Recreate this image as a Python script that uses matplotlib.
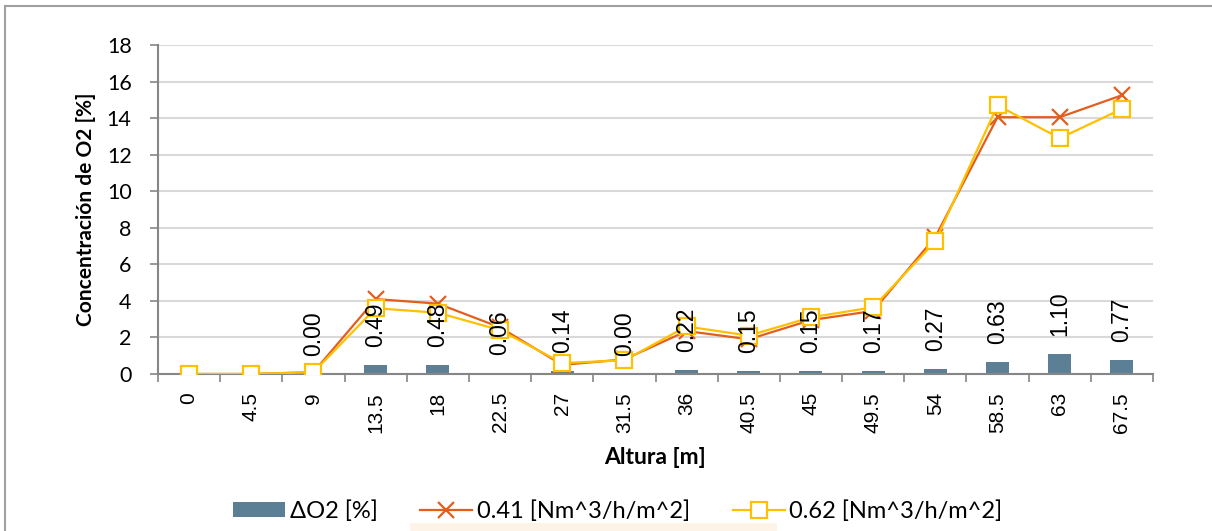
import numpy as np
import matplotlib
matplotlib.use("Agg")
import matplotlib.pyplot as plt
from matplotlib.patches import Rectangle

altura = ["0", "4.5", "9", "13.5", "18", "22.5", "27", "31.5", "36", "40.5",
          "45", "49.5", "54", "58.5", "63", "67.5"]
delta_o2 = [np.nan, np.nan, 0.00, 0.49, 0.48, 0.06, 0.14, 0.00, 0.22, 0.15,
            0.15, 0.17, 0.27, 0.63, 1.10, 0.77]
o2_041 = [0.0, 0.0, 0.1, 4.1, 3.85, 2.55, 0.5, 0.8, 2.35, 1.9,
          2.95, 3.45, 7.5, 14.05, 14.05, 15.25]
o2_062 = [0.0, 0.0, 0.1, 3.6, 3.35, 2.4, 0.6, 0.75, 2.6, 2.1,
          3.1, 3.65, 7.25, 14.7, 12.9, 14.5]
yticks = [0, 2, 4, 6, 8, 10, 12, 14, 16, 18]

C_BAR = "#5B7F95"
C_OR = "#E35E1C"
C_YE = "#FFC000"
GRID = "#D9D9D9"
AX = "#868686"
LAB = ["Lato", "DejaVu Sans"]

fig = plt.figure(figsize=(12.12, 5.31), dpi=100)
W, H = 1212, 531
ax = fig.add_axes([158 / W, 1 - 374 / H, (1153 - 158) / W, (374 - 45) / H])

x = np.arange(len(altura))
bars = ax.bar(x, delta_o2, width=0.37, color=C_BAR, label="ΔO2 [%]", zorder=2)
l1, = ax.plot(x, o2_041, "-", marker="x", color=C_OR, lw=1.6, ms=11, mew=1.6,
              label="0.41 [Nm^3/h/m^2]", zorder=3)
l2, = ax.plot(x, o2_062, "-", marker="s", color=C_YE, lw=1.6, ms=12, mew=1.6,
              mfc="white", label="0.62 [Nm^3/h/m^2]", zorder=4)

for xi, v in zip(x, delta_o2):
    if np.isnan(v):
        continue
    ax.annotate(f"{v:.2f}", (xi, v), xytext=(0, 13), textcoords="offset points",
                rotation=90, ha="center", va="bottom", fontsize=16.5,
                family="Liberation Sans", zorder=5)

ax.set_xlim(-0.5, len(altura) - 0.5)
ax.set_ylim(0, 18)
ax.set_yticks(yticks)
ax.set_yticklabels([str(t) for t in yticks], family=LAB, fontsize=15.5)
ax.set_xticks(x)
ax.set_xticklabels(altura, rotation=90, family="Liberation Sans", fontsize=15)
ax.set_xticks(np.arange(len(altura) + 1) - 0.5, minor=True)
ax.tick_params(axis="x", which="major", length=0, pad=13)
ax.tick_params(axis="x", which="minor", length=6, color=AX, width=1.2)
ax.tick_params(axis="y", length=6, color=AX, width=1.2, pad=13)

ax.grid(axis="y", color=GRID, lw=1.5, zorder=0)
ax.set_axisbelow(True)
for s in ["top", "right"]:
    ax.spines[s].set_visible(False)
for s in ["left", "bottom"]:
    ax.spines[s].set_color(AX)
    ax.spines[s].set_linewidth(1.5)

ax.set_ylabel("Concentración de O2 [%]", family=LAB, fontsize=15, fontweight="bold", labelpad=8)
ax.set_xlabel("Altura [m]", family=LAB, fontsize=16.5, fontweight="bold", labelpad=10)

fig.patches.append(Rectangle((410 / W, 0), (777 - 410) / W, (H - 523) / H,
                             transform=fig.transFigure, facecolor="#FDF3E6",
                             edgecolor="none", zorder=0))
fig.patches.append(Rectangle((5 / W, -0.05), 1.1, 1 - 6 / H + 0.05,
                             transform=fig.transFigure, facecolor="none",
                             edgecolor="#A0A0A0", lw=1.5, zorder=1))

fig.legend([bars, l1, l2], ["ΔO2 [%]", "0.41 [Nm^3/h/m^2]", "0.62 [Nm^3/h/m^2]"],
           loc="center", bbox_to_anchor=(618 / W, 1 - 511 / H), ncol=3, frameon=False,
           prop={"family": LAB, "size": 17}, handlelength=2.2, handleheight=0.65,
           columnspacing=1.8, handletextpad=0.2)

fig.savefig("out.png", dpi=100)
